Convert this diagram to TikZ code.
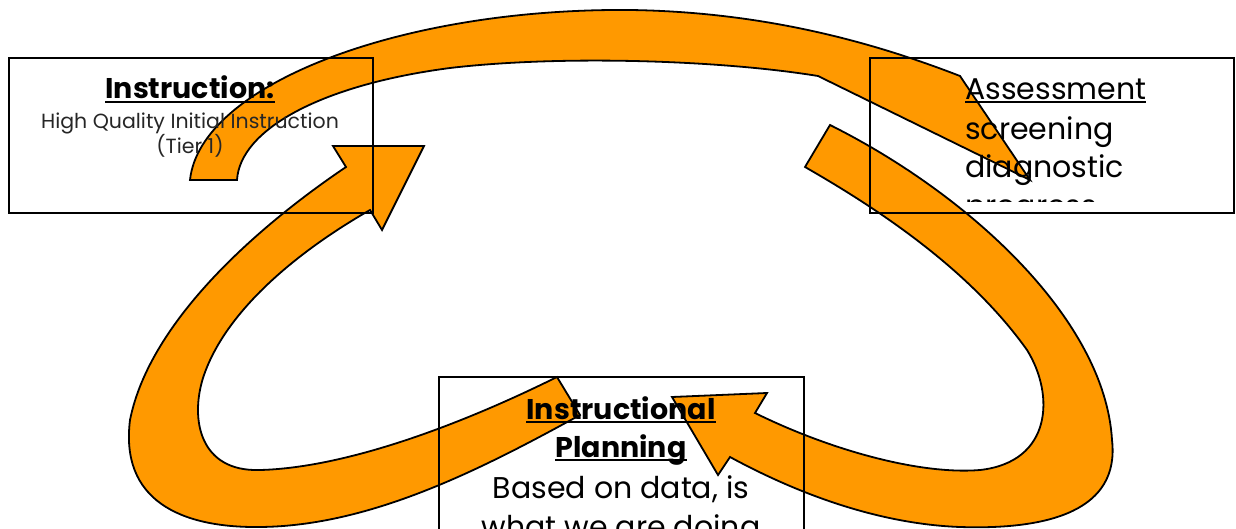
\documentclass[tikz,border=0pt]{standalone}
\usepackage{fontspec}
\setmainfont{Poppins}
\definecolor{arroworange}{HTML}{FF9900}
\tikzset{
  blockarrow/.style={fill=arroworange, draw=black, line width=1.8pt, line join=miter},
  textbox/.style={draw=black, line width=1.6pt},
  lbl/.style={inner sep=0pt, anchor=base, text=black},
  bigtxt/.style={lbl, font=\fontsize{30}{36}\selectfont},
  bigbold/.style={lbl, font=\fontsize{28.5}{34}\selectfont\bfseries},
  smalltxt/.style={lbl, font=\fontsize{20.5}{24}\selectfont, text=black!85},
  ulbold/.style={line width=2.6pt},
  ulreg/.style={line width=1.8pt}
}
\begin{document}
\begin{tikzpicture}[x=1pt,y=-1pt]
\useasboundingbox (0,0) rectangle (1236,529);

% top arc arrow
\draw[blockarrow] (190,180) .. controls (200,85) and (400,8) .. (630,10)
  .. controls (770,12) and (880,45) .. (960,76)
  -- (1030,180) -- (818,76)
  .. controls (720,60) and (560,55) .. (450,68)
  .. controls (320,85) and (240,130) .. (237,180) -- cycle;

% left arrow
\draw[blockarrow] (557,377) .. controls (450,430) and (340,468) .. (260,470)
  .. controls (200,472) and (190,420) .. (203,378)
  .. controls (225,310) and (300,250) .. (370,210)
  -- (382,230) -- (424,146) -- (333,146) -- (346,167)
  .. controls (260,225) and (150,320) .. (130,420)
  .. controls (120,500) and (180,528) .. (260,527)
  .. controls (370,526) and (480,470) .. (580,415) -- cycle;

% right arrow
\draw[blockarrow] (830,125) .. controls (970,195) and (1105,320) .. (1112,440)
  .. controls (1120,510) and (1050,530) .. (960,527)
  .. controls (880,524) and (800,495) .. (730,457)
  -- (718,475) -- (672,397) -- (767,393) -- (755,413)
  .. controls (830,450) and (920,475) .. (980,470)
  .. controls (1052,462) and (1055,395) .. (1027,350)
  .. controls (970,270) and (880,210) .. (805,167) -- cycle;

% boxes
\node[textbox, minimum width=364pt, minimum height=155pt, anchor=north west, inner sep=0pt] (boxL) at (8,57) {};
\node[textbox, minimum width=364pt, minimum height=155pt, anchor=north west, inner sep=0pt] (boxR) at (869,57) {};
\node[textbox, minimum width=365pt, minimum height=190pt, anchor=north west, inner sep=0pt] (boxB) at (438,376) {};

% left box text
\node[bigbold] (l1) at (190,99) {Instruction:};
\draw[ulbold] ([yshift=-3pt]l1.base west) -- ([yshift=-3pt]l1.base east);
\node[smalltxt] (l2) at (190,129) {High Quality Initial Instruction};
\node[smalltxt] (l3) at (190,154) {(Tier 1)};

% right box text
\begin{scope}
\clip (869,57) rectangle (1233,202);
\node[bigtxt, anchor=base west] (r1) at (965,100) {Assessment};
\node[bigtxt, anchor=base west] (r2) at (965,140) {screening};
\node[bigtxt, anchor=base west] (r3) at (965,178) {diagnostic};
\node[bigtxt, anchor=base west] (r4) at (965,217) {progress};
\end{scope}
\draw[ulreg] ([yshift=-2pt]r1.base west) -- ([yshift=-2pt]r1.base east);

% bottom box text
\node[bigbold] (b1) at (621,419) {Instructional};
\draw[ulbold] ([yshift=-3pt]b1.base west) -- ([yshift=-3pt]b1.base east);
\node[bigbold] (b2) at (621,457) {Planning};
\draw[ulbold] ([yshift=-3pt]b2.base west) -- ([yshift=-3pt]b2.base east);
\node[bigtxt] (b3) at (621,498) {Based on data, is};
\node[bigtxt] (b4) at (621,537) {what we are doing};
\end{tikzpicture}
\end{document}
